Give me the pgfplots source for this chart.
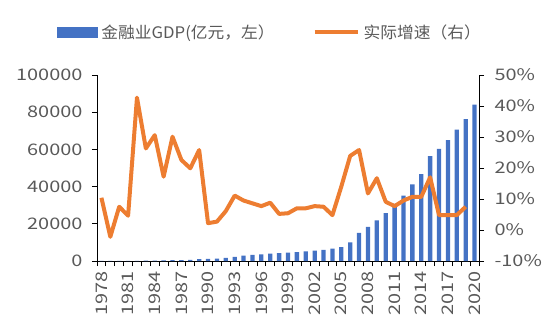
\documentclass[border=0pt]{standalone}
\usepackage{pgfplots}
\pgfplotsset{compat=1.18}
\usepackage{pgfplotstable}
\usepackage{fontspec}
\setmainfont{Noto Sans CJK SC}
\newfontfamily\tickfont{Noto Sans CJK SC}[FakeStretch=1.25]
\newfontfamily\legfont{Noto Sans CJK SC}[FakeStretch=1.05]
\definecolor{barblue}{HTML}{4472C4}
\definecolor{lineorange}{HTML}{ED7D31}
\definecolor{txtgray}{HTML}{595959}

\pgfplotstableread{
x year gdp
0 1978 77
1 1979 80
2 1980 85
3 1981 92
4 1982 117
5 1983 167
6 1984 233
7 1985 294
8 1986 409
9 1987 510
10 1988 661
11 1989 956
12 1990 1175
13 1991 1295
14 1992 1733
15 1993 2168
16 1994 2832
17 1995 3242
18 1996 3605
19 1997 3989
20 1998 4277
21 1999 4505
22 2000 4837
23 2001 5201
24 2002 5553
25 2003 5964
26 2004 6587
27 2005 7469
28 2006 9951
29 2007 15173
30 2008 18313
31 2009 21798
32 2010 25680
33 2011 30678
34 2012 35188
35 2013 41191
36 2014 46665
37 2015 56400
38 2016 60300
39 2017 65000
40 2018 70610
41 2019 76251
42 2020 84070
}\gdpdata

\pgfplotstableread{
x year g
0 1978 10.4
1 1979 -2.2
2 1980 7.5
3 1981 4.6
4 1982 42.7
5 1983 26.3
6 1984 30.6
7 1985 17.2
8 1986 30.1
9 1987 22.6
10 1988 19.9
11 1989 25.8
12 1990 2.2
13 1991 2.7
14 1992 6.1
15 1993 11.1
16 1994 9.5
17 1995 8.6
18 1996 7.7
19 1997 8.8
20 1998 5.2
21 1999 5.4
22 2000 7.0
23 2001 7.0
24 2002 7.7
25 2003 7.5
26 2004 4.8
27 2005 14.0
28 2006 23.9
29 2007 25.8
30 2008 11.8
31 2009 16.7
32 2010 9.1
33 2011 7.7
34 2012 9.5
35 2013 10.7
36 2014 10.7
37 2015 17.0
38 2016 4.8
39 2017 4.8
40 2018 4.8
41 2019 7.5
}\growthdata

\begin{document}
\begin{tikzpicture}
\useasboundingbox (-97bp,-71bp) rectangle (457bp,261bp);
\begin{axis}[
  scale only axis, width=382bp, height=186bp,
  at={(0,0)}, anchor=south west,
  xmin=-0.5, xmax=42.5, ymin=0, ymax=100000,
  axis x line*=bottom, axis y line*=left,
  axis line style={black, line width=0.8pt},
  xtick={0,3,...,42},
  xticklabels={1978,1981,1984,1987,1990,1993,1996,1999,2002,2005,2008,2011,2014,2017,2020},
  major x tick style={draw=none},
  minor xtick={-0.5,0.5,...,42.5},
  minor x tick style={black, line width=0.8pt},
  minor tick length=5bp,
  major tick length=5bp,
  tick align=outside,
  ytick={0,20000,...,100000},
  ytick style={black, line width=0.8pt},
  scaled y ticks=false,
  /pgf/number format/.cd, fixed, 1000 sep={}, assume math mode=true,
  /pgfplots/.cd,
  yticklabel style={font=\tickfont\fontsize{16}{16}\selectfont, text=txtgray, xshift=-6bp},
  xticklabel style={font=\tickfont\fontsize{16}{16}\selectfont, text=txtgray, rotate=90, anchor=east, inner xsep=5bp},
  ybar, bar width=4.3bp,
]
\addplot[ybar, fill=barblue, draw=none] table[x=x, y=gdp] {\gdpdata};
\end{axis}
\begin{axis}[
  scale only axis, width=382bp, height=186bp,
  at={(0,0)}, anchor=south west,
  xmin=-0.5, xmax=42.5, ymin=-10, ymax=50,
  axis x line=none, axis y line*=right,
  axis line style={black, line width=0.8pt},
  ytick={-10,0,...,50},
  ytick style={black, line width=0.8pt},
  major tick length=5bp, tick align=outside,
  yticklabel={\pgfmathprintnumber{\tick}\%},
  /pgf/number format/assume math mode=true,
  yticklabel style={font=\tickfont\fontsize{16}{16}\selectfont, text=txtgray, xshift=7bp},
  legend columns=2,
  legend style={draw=none, fill=none, at={(-0.105,1.231)}, anchor=west,
    font=\legfont\fontsize{16}{16}\selectfont, text=txtgray, inner sep=0pt,
    nodes={inner xsep=4bp},
    /tikz/every even column/.append style={column sep=34bp}},
  legend cell align=left,
]
\addlegendimage{legend image code/.code={\fill[barblue] (0bp,-5bp) rectangle (40bp,5bp);}}
\addlegendentry{金融业GDP(亿元，左）}
\addplot[lineorange, line width=4bp, line join=round,
  legend image code/.code={\draw[lineorange, line width=4bp] (0bp,0bp) -- (43bp,0bp);}]
  table[x=x, y=g] {\growthdata};
\addlegendentry{实际增速（右）}
\end{axis}
\end{tikzpicture}
\end{document}
